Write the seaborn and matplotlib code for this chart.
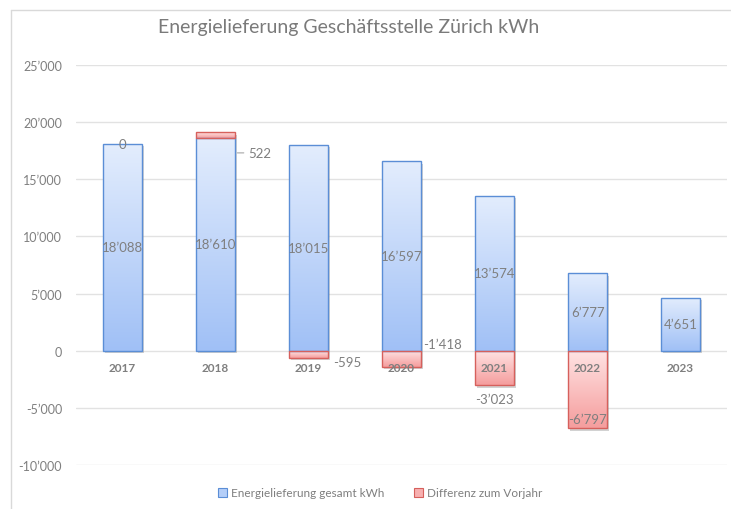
import numpy as np
import matplotlib
matplotlib.use("Agg")
import matplotlib.pyplot as plt
import seaborn as sns
from matplotlib.colors import LinearSegmentedColormap
from matplotlib.patches import Patch
from matplotlib.lines import Line2D
from matplotlib.ticker import FuncFormatter
from matplotlib.transforms import offset_copy

# data
years = ["2017", "2018", "2019", "2020", "2021", "2022", "2023"]
total_kwh = [18088, 18610, 18015, 16597, 13574, 6777, 4651]
diff_kwh = [0, 522, -595, -1418, -3023, -6797]   # 2023 has no value shown

title = "Energielieferung Geschäftsstelle Zürich kWh"
legend_labels = ["Energielieferung gesamt kWh", "Differenz zum Vorjahr"]

def fmt(v):
    return f"{v:,.0f}".replace(",", "\u2019")

gray = "#7f7f7f"
blue_top, blue_bot, blue_edge = "#e3edfd", "#a0c0f6", "#5b8ed6"
red_top, red_bot, red_edge = "#ffe4e4", "#f59d9d", "#d6605c"

sns.set_style("white")
plt.rcParams["font.family"] = ["Lato", "DejaVu Sans"]

fig = plt.figure(figsize=(7.31, 5.10), dpi=100)
ax = fig.add_axes([76 / 731, 1 - 466 / 510, 651 / 731, 400 / 510])

bw = 0.41
sns.barplot(x=years, y=total_kwh, ax=ax, width=bw, color=blue_top,
            saturation=1, edgecolor=blue_edge, linewidth=1.0, zorder=3)
blue_bars = list(ax.patches)

# differences: positive ones sit on top of the total, negative ones hang from zero
pos = np.arange(len(diff_kwh))
base = [total_kwh[i] if d >= 0 else 0 for i, d in enumerate(diff_kwh)]
red_bars = ax.bar(pos, diff_kwh, bottom=base, width=bw, color=red_top,
                  edgecolor=red_edge, linewidth=1.0, zorder=3)

# soft shadow below / right of the bars
shadow_tr = offset_copy(ax.transData, fig=fig, x=2, y=-2.5, units="dots")
ax.bar(np.arange(len(years)), total_kwh, width=bw, color="#808080", alpha=0.35,
       linewidth=0, zorder=2.5, transform=shadow_tr)
ax.bar(pos, diff_kwh, bottom=base, width=bw, color="#808080", alpha=0.35,
       linewidth=0, zorder=2.5, transform=shadow_tr)


def gradient(p, c_top, c_bot):
    x0, y0 = p.get_x(), p.get_y()
    w, h = p.get_width(), p.get_height()
    if h == 0:
        p.set_visible(False)
        return
    lo, hi = sorted([y0, y0 + h])
    cmap = LinearSegmentedColormap.from_list("g", [c_bot, c_top])
    g = np.linspace(0, 1, 256).reshape(-1, 1)
    im = ax.imshow(g, extent=(x0, x0 + w, lo, hi), origin="lower", cmap=cmap,
                   aspect="auto", zorder=2.9, interpolation="bilinear")
    im.set_clip_path(p)
    p.set_facecolor("none")


for p in blue_bars:
    gradient(p, blue_top, blue_bot)
for p in red_bars:
    gradient(p, red_top, red_bot)

ax.set_xlim(-0.5, 6.5)
ax.set_ylim(-10000, 25000)
ax.set_yticks(np.arange(-10000, 25001, 5000))
ax.yaxis.set_major_formatter(FuncFormatter(lambda v, _: fmt(v)))
ax.yaxis.grid(True, color="#e2e2e2", linewidth=1.0, zorder=0)
ax.set_axisbelow(True)
for s in ax.spines.values():
    s.set_visible(False)
ax.tick_params(axis="y", length=0, pad=10, labelsize=9, labelcolor=gray)
ax.set_xticks([])
ax.set_xlabel("")
ax.set_ylabel("")

# category labels just under the zero line, drawn above the bars
for i, y in enumerate(years):
    ax.annotate(y, (i, 0), xytext=(0, -12), textcoords="offset points", ha="center",
                va="center", fontsize=8.5, fontweight="bold", color=gray, zorder=6)

# value labels for totals, middle of the bar
for i, v in enumerate(total_kwh):
    ax.text(i, v / 2, fmt(v), ha="center", va="center", fontsize=9.5, color=gray, zorder=5)

# difference labels, placed like in the original chart
lab = [fmt(d) if d >= 0 else "-" + fmt(-d) for d in diff_kwh]
ax.annotate(lab[0], (0, total_kwh[0]), ha="center", va="center", fontsize=9.5, color=gray, zorder=5)
ax.annotate(lab[1], (1 + bw / 2, total_kwh[1] - 1300), xytext=(10, 0), textcoords="offset points",
            ha="left", va="center", fontsize=9.5, color=gray, zorder=5,
            arrowprops=dict(arrowstyle="-", color="#a6a6a6", lw=0.8, shrinkA=1, shrinkB=2))
ax.annotate(lab[2], (2 + bw / 2, diff_kwh[2]), xytext=(4, -3), textcoords="offset points",
            ha="left", va="center", fontsize=9.5, color=gray, zorder=5)
ax.annotate(lab[3], (3 + bw / 2, 0), xytext=(2, 5), textcoords="offset points",
            ha="left", va="center", fontsize=9.5, color=gray, zorder=5)
ax.annotate(lab[4], (4, diff_kwh[4]), xytext=(0, -10), textcoords="offset points",
            ha="center", va="center", fontsize=9.5, color=gray, zorder=5)
ax.annotate(lab[5], (5, diff_kwh[5]), xytext=(0, 7), textcoords="offset points",
            ha="center", va="center", fontsize=9.5, color=gray, zorder=5)

fig.text(349 / 731, 1 - 28 / 510, title, ha="center", va="center", fontsize=14,
         color="#7a7a7a")

handles = [Patch(facecolor="#b4cef8", edgecolor=blue_edge, linewidth=0.8),
           Patch(facecolor="#f7b0b0", edgecolor=red_edge, linewidth=0.8)]
fig.legend(handles, legend_labels, loc="center", bbox_to_anchor=(380 / 731, 1 - 494 / 510),
           ncol=2, frameon=False, fontsize=8.5, labelcolor=gray, handlelength=0.8,
           handleheight=0.8, handletextpad=0.3, columnspacing=2.5)

# chart area border (left and top only visible)
fig.add_artist(Line2D([11 / 731, 11 / 731], [0, 1 - 11 / 510], transform=fig.transFigure,
                      color="#d9d9d9", lw=1))
fig.add_artist(Line2D([11 / 731, 1], [1 - 11 / 510, 1 - 11 / 510], transform=fig.transFigure,
                      color="#d9d9d9", lw=1))

fig.savefig("out.png", dpi=100)
